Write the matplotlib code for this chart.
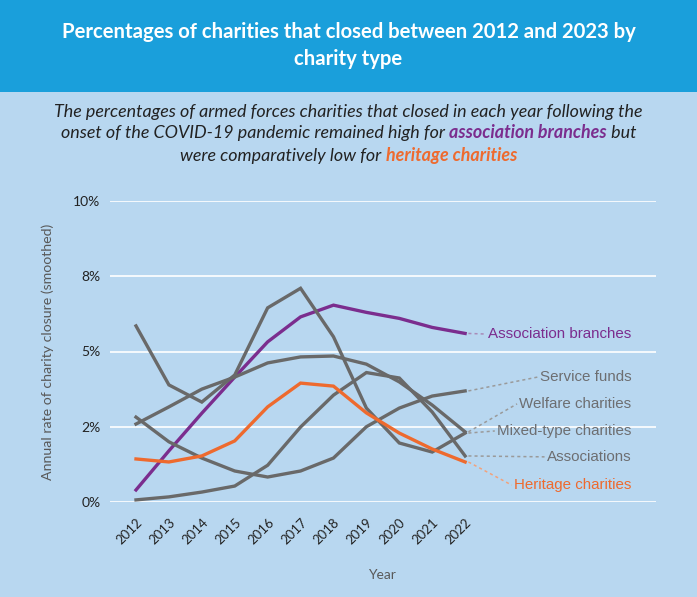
import numpy as np
import matplotlib.pyplot as plt
from matplotlib.patches import Rectangle

years = ["2012", "2013", "2014", "2015", "2016", "2017", "2018", "2019", "2020", "2021", "2022"]
association_branches = [0.40, 1.70, 2.95, 4.15, 5.32, 6.15, 6.54, 6.30, 6.10, 5.80, 5.60]
service_funds = [2.82, 2.00, 1.46, 1.03, 0.83, 1.03, 1.46, 2.50, 3.12, 3.52, 3.69]
welfare_charities = [2.59, 3.16, 3.75, 4.15, 4.62, 4.82, 4.85, 4.58, 3.99, 3.22, 2.33]
mixed_type_charities = [5.85, 3.89, 3.32, 4.22, 6.45, 7.10, 5.49, 3.12, 1.96, 1.66, 2.29]
associations = [0.07, 0.17, 0.33, 0.53, 1.22, 2.49, 3.55, 4.30, 4.12, 2.99, 1.53]
heritage_charities = [1.43, 1.33, 1.53, 2.03, 3.16, 3.95, 3.85, 2.96, 2.29, 1.76, 1.33]

y_ticks = [0, 2.5, 5, 7.5, 10]
y_tick_labels = ["0%", "2%", "5%", "8%", "10%"]

PURPLE = "#7b2d8e"
ORANGE = "#ee6a2e"
GREY = "#696969"
LABEL_GREY = "#6d6e71"
BG = "#b8d7f0"
HEADER = "#1a9fdb"

# name, values, line colour, label colour, connector colour, label y (data units)
series = [
    ("Association branches", association_branches, PURPLE, PURPLE, "#a98bb8", 5.58),
    ("Service funds", service_funds, GREY, LABEL_GREY, "#9a9a9a", 4.15),
    ("Welfare charities", welfare_charities, GREY, LABEL_GREY, "#9a9a9a", 3.26),
    ("Mixed-type charities", mixed_type_charities, GREY, LABEL_GREY, "#9a9a9a", 2.36),
    ("Associations", associations, GREY, LABEL_GREY, "#9a9a9a", 1.50),
    ("Heritage charities", heritage_charities, ORANGE, ORANGE, "#f2a27c", 0.56),
]

fig = plt.figure(figsize=(6.97, 5.97), dpi=100, facecolor=BG)
W, H = 697, 597

# header band
fig.patches.append(Rectangle((0, 1 - 92 / H), 1, 92 / H, transform=fig.transFigure,
                             facecolor=HEADER, edgecolor="none", zorder=0))
fig.text(0.5, 1 - 32 / H, "Percentages of charities that closed between 2012 and 2023 by",
         ha="center", va="center", color="white", fontsize=14.6, fontweight="bold", family="Lato")
fig.text(0.5, 1 - 59 / H, "charity type",
         ha="center", va="center", color="white", fontsize=14.6, fontweight="bold", family="Lato")

# subtitle with coloured highlights
renderer = fig.canvas.get_renderer()


def seg_width(txt, **kw):
    a = fig.text(0, 0, txt + "|", **kw)
    b = fig.text(0, 0, "|", **kw)
    w = a.get_window_extent(renderer).width - b.get_window_extent(renderer).width
    a.remove()
    b.remove()
    return w


sub_lines = [
    [("The percentages of armed forces charities that closed in each year following the", "#222222", "normal")],
    [("onset of the COVID-19 pandemic remained high for ", "#222222", "normal"),
     ("association branches", PURPLE, "bold"), (" but", "#222222", "normal")],
    [("were comparatively low for ", "#222222", "normal"), ("heritage charities", ORANGE, "bold")],
]
sub_y = [112, 133, 156]
for parts, ypx in zip(sub_lines, sub_y):
    kws = [dict(fontsize=12.9, style="italic", weight=w, family="Lato", color=c) for _, c, w in parts]
    widths = [seg_width(t, **k) for (t, _, _), k in zip(parts, kws)]
    x = (W - sum(widths)) / 2
    for (t, _, _), k, w in zip(parts, kws, widths):
        fig.text(x / W, 1 - ypx / H, t, ha="left", va="center", **k)
        x += w

ax = fig.add_axes([110 / W, 1 - 502 / H, (656 - 110) / W, (502 - 201) / H])
ax.set_facecolor(BG)
x = np.arange(len(years))
for name, vals, col, lcol, ccol, ly in series:
    ax.plot(x, vals, color=col, lw=2.4, solid_joinstyle="miter", zorder=3)

ax.set_xlim(-0.79, 15.8)
ax.set_ylim(0, 10)
ax.set_yticks(y_ticks)
ax.set_yticklabels(y_tick_labels, fontsize=10, family="Lato", color="#222222")
ax.set_xticks(x)
ax.set_xticklabels(years, rotation=45, ha="right", rotation_mode="anchor",
                   fontsize=9.5, family="Lato", color="#222222")
ax.tick_params(length=0, pad=7)
ax.tick_params(axis="x", pad=10)
ax.grid(axis="y", color="white", lw=1.2, zorder=1)
ax.set_axisbelow(True)
for s in ax.spines.values():
    s.set_visible(False)

ax.set_ylabel("Annual rate of charity closure (smoothed)", fontsize=10.2, family="Lato",
              color="#595959", labelpad=14)
fig.text(382 / W, 1 - 575 / H, "Year", ha="center", va="center", fontsize=10,
         family="Lato", color="#595959")

# end labels with dotted connectors
label_x = (631 - 136) / 32.9
for name, vals, col, lcol, ccol, ly in series:
    t = ax.text(label_x, ly, name, ha="right", va="center", fontsize=10.9,
                family="Liberation Sans", color=lcol, zorder=4)
    bb = t.get_window_extent(renderer)
    left = ax.transData.inverted().transform((bb.x0 - 2, 0))[0]
    ax.plot([x[-1] + 0.1, left], [vals[-1], ly], color=ccol, lw=1.1,
            ls=(0, (2, 2)), zorder=2, clip_on=False)

fig.savefig("out.png", dpi=100, facecolor=BG)
